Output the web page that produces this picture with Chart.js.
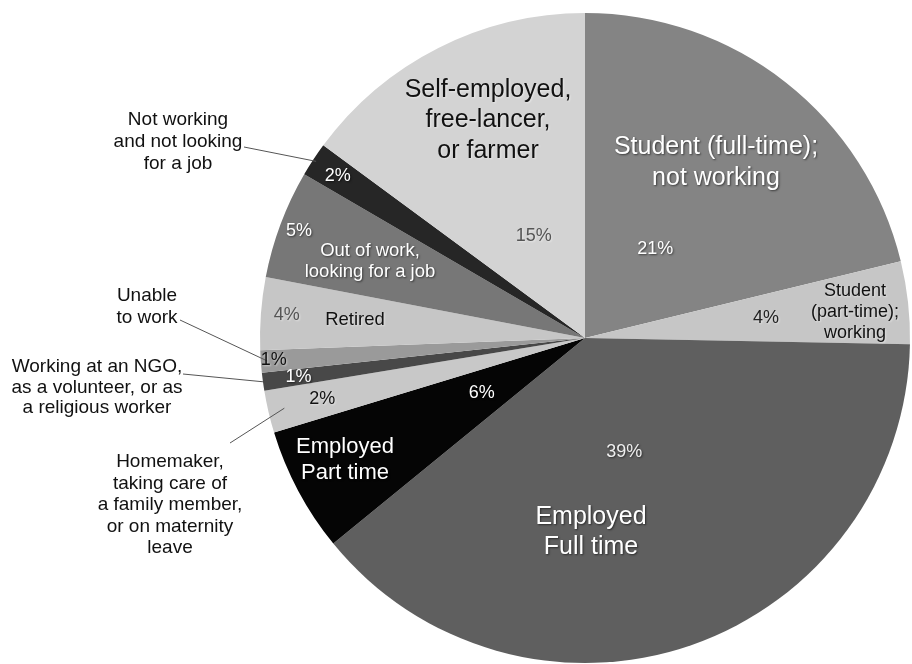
<!DOCTYPE html>
<html>
<head>
<meta charset="utf-8">
<script src="https://cdn.jsdelivr.net/npm/chart.js@4.4.1/dist/chart.umd.min.js"></script>
<style>
  html, body { margin: 0; padding: 0; background: #fff; overflow: hidden; }
  #wrap { width: 912px; height: 664px; position: relative; }
</style>
</head>
<body>
<div id="wrap"><canvas id="chart"></canvas></div>
<script>
// data, clockwise from 12 o'clock
const categories = [
  'Student (full-time); not working',
  'Student (part-time); working',
  'Employed Full time',
  'Employed Part time',
  'Homemaker, taking care of a family member, or on maternity leave',
  'Working at an NGO, as a volunteer, or as a religious worker',
  'Unable to work',
  'Retired',
  'Out of work, looking for a job',
  'Not working and not looking for a job',
  'Self-employed, free-lancer, or farmer'
];
const shares = [21.2, 4.1, 38.8, 6.2, 2.1, 0.9, 1.1, 3.6, 5.4, 1.7, 14.9];
const pctText = ['21%', '4%', '39%', '6%', '2%', '1%', '1%', '4%', '5%', '2%', '15%'];

const sliceColors = ['#848484', '#c6c6c6', '#5f5f5f', '#050505', '#c8c8c8', '#484848',
                     '#9a9a9a', '#c6c6c6', '#777777', '#262626', '#d3d3d3'];

// label styling / placement
const FONT = '"Liberation Sans", Arial, Helvetica, sans-serif';
const pctRadius = [0.35, 0.56, 0.37, 0.36, 0.83, 0.89, 0.96, 0.92, 0.94, 0.91, 0.35];
const pctColor = ['#fff', '#222', '#eee', '#fff', '#111', '#fff', '#111', '#555', '#fff', '#fff', '#555'];

const innerLabels = [
  { i: 0, lines: ['Student (full-time);', 'not working'], x: 716, y: 147, size: 25, lh: 31, color: '#fff' },
  { i: 1, lines: ['Student', '(part-time);', 'working'], x: 855, y: 291, size: 18, lh: 21, color: '#111' },
  { i: 2, lines: ['Employed', 'Full time'], x: 591, y: 517, size: 25, lh: 30, color: '#fff' },
  { i: 3, lines: ['Employed', 'Part time'], x: 345, y: 447, size: 22, lh: 26, color: '#fff' },
  { i: 7, lines: ['Retired'], x: 355, y: 320, size: 18.5, lh: 20, color: '#111' },
  { i: 8, lines: ['Out of work,', 'looking for a job'], x: 370, y: 251, size: 18.5, lh: 20.5, color: '#fff' },
  { i: 10, lines: ['Self-employed,', 'free-lancer,', 'or farmer'], x: 488, y: 90, size: 25, lh: 30.5, color: '#111' }
];

const outerLabels = [
  { i: 9, lines: ['Not working', 'and not looking', 'for a job'], x: 178, y: 120, lh: 22, from: [244, 147], reach: 0.99 },
  { i: 6, lines: ['Unable', 'to work'], x: 147, y: 296, lh: 22, from: [180, 320], reach: 0.98 },
  { i: 5, lines: ['Working at an NGO,', 'as a volunteer, or as', 'a religious worker'], x: 97, y: 367, lh: 20.5, from: [183, 374], reach: 1.0 },
  { i: 4, lines: ['Homemaker,', 'taking care of', 'a family member,', 'or on maternity', 'leave'], x: 170, y: 462, lh: 21.5, from: [230, 443], reach: 0.95 }
];

function shadowFor(ctx, color) {
  if (color === '#fff' || color === '#eee') {
    ctx.shadowColor = 'rgba(0,0,0,0.55)';
  } else {
    ctx.shadowColor = 'rgba(255,255,255,0.5)';
  }
  ctx.shadowOffsetX = 1;
  ctx.shadowOffsetY = 1;
  ctx.shadowBlur = 2;
}

const pieLabels = {
  id: 'pieLabels',
  afterDatasetsDraw(chart) {
    const ctx = chart.ctx;
    const arcs = chart.getDatasetMeta(0).data;
    ctx.save();
    ctx.textAlign = 'center';
    ctx.textBaseline = 'middle';

    // leader lines
    ctx.strokeStyle = '#555';
    ctx.lineWidth = 1;
    for (let lab of outerLabels) {
      const a = arcs[lab.i].getProps(['x', 'y', 'startAngle', 'endAngle', 'outerRadius'], true);
      const mid = (a.startAngle + a.endAngle) / 2;
      ctx.beginPath();
      ctx.moveTo(lab.from[0], lab.from[1]);
      ctx.lineTo(a.x + Math.cos(mid) * a.outerRadius * lab.reach, a.y + Math.sin(mid) * a.outerRadius * lab.reach);
      ctx.stroke();
    }

    // outside text
    ctx.fillStyle = '#111';
    ctx.font = '19px ' + FONT;
    for (let lab of outerLabels) {
      lab.lines.forEach((t, k) => ctx.fillText(t, lab.x, lab.y + k * lab.lh));
    }

    // names inside slices
    for (let lab of innerLabels) {
      ctx.save();
      shadowFor(ctx, lab.color);
      ctx.fillStyle = lab.color;
      ctx.font = lab.size + 'px ' + FONT;
      lab.lines.forEach((t, k) => ctx.fillText(t, lab.x, lab.y + k * lab.lh));
      ctx.restore();
    }

    // percentages
    ctx.font = '18px ' + FONT;
    arcs.forEach((arc, i) => {
      const a = arc.getProps(['x', 'y', 'startAngle', 'endAngle', 'outerRadius'], true);
      const mid = (a.startAngle + a.endAngle) / 2;
      const r = a.outerRadius * pctRadius[i];
      ctx.save();
      shadowFor(ctx, pctColor[i]);
      ctx.fillStyle = pctColor[i];
      ctx.fillText(pctText[i], a.x + Math.cos(mid) * r, a.y + Math.sin(mid) * r);
      ctx.restore();
    });
    ctx.restore();
  }
};

new Chart(document.getElementById('chart'), {
  type: 'pie',
  data: {
    labels: categories,
    datasets: [{
      data: shares,
      backgroundColor: sliceColors,
      borderWidth: 0,
      hoverOffset: 0,
      offset: 0
    }]
  },
  options: {
    responsive: true,
    maintainAspectRatio: false,
    animation: false,
    events: [],
    layout: { padding: { left: 260, right: 2, top: 13, bottom: 1 } },
    plugins: {
      legend: { display: false },
      tooltip: { enabled: false }
    }
  },
  plugins: [pieLabels]
});
</script>
</body>
</html>
